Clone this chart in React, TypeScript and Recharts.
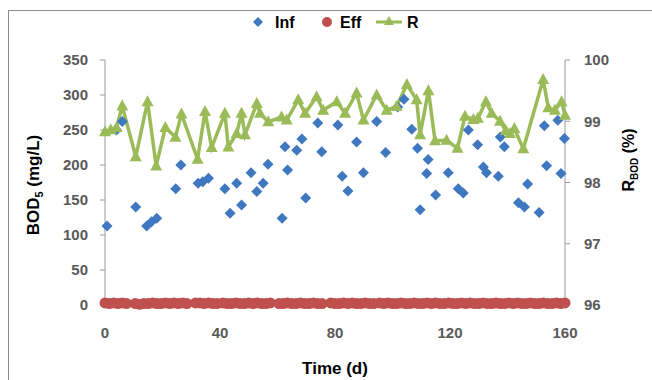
import React from 'react';
import { ComposedChart, Scatter, Line, XAxis, YAxis } from 'recharts';

// influent BOD5 (mg/L)
const infDays = [0.7, 4, 6, 10.7, 14.5, 16.2, 18, 24.6, 26.4, 32.4, 34, 36, 41.7, 43.5, 45.8, 47.5, 50.8, 52.8, 55, 56.7, 61.6, 62.6, 63.5, 66.7, 68.5, 69.8, 74, 75.4, 81, 82.5, 84.5, 87.5, 89.9, 94.5, 97.6, 101.8, 104, 106.7, 108.7, 109.6, 111.9, 112.4, 115, 119.4, 122.9, 124.6, 126.4, 129.6, 131.6, 132.7, 136.8, 137.5, 138.9, 143.8, 145.9, 147, 151, 152.8, 153.6, 157.5, 158.6, 159.8];
const infValues = [113, 250, 262, 140, 113, 119, 124, 166, 200, 174, 176, 181, 166, 131, 174, 143, 189, 162, 174, 201, 124, 226, 193, 221, 237, 153, 260, 219, 257, 184, 163, 233, 189, 262, 218, 283, 294, 251, 224, 136, 188, 208, 157, 189, 166, 160, 250, 229, 197, 189, 184, 240, 226, 146, 140, 173, 132, 256, 199, 264, 188, 238];
// effluent BOD5 (mg/L)
const effDays = [0, 1.5, 3, 4.5, 6, 7.5, 10.5, 12, 13.5, 15, 16.5, 18, 19.5, 21, 22.5, 24, 25.5, 27, 28.5, 31.5, 33, 34.5, 36, 37.5, 39, 41, 42.5, 44, 45.5, 47, 48.5, 50, 51.5, 53, 54.5, 56, 57.5, 60.5, 62, 63.5, 65, 66.5, 68, 69.5, 71, 72.5, 74, 75.5, 78.5, 80, 81.5, 83, 84.5, 86, 87.5, 89, 90.5, 92, 93.5, 95.5, 97, 98.5, 100, 101.5, 103, 104.5, 106, 107.5, 109, 110.5, 112, 113.5, 115, 116.5, 118, 119.5, 121, 122.5, 124, 125.5, 127, 128.5, 130, 131.5, 133, 134.5, 136, 137.5, 139, 140.5, 142, 143.5, 145, 146.5, 148, 149.5, 151, 152.5, 154, 155.5, 157, 158.5, 160];
const effValues = [3, 2, 3, 2, 3, 2, 2, 1, 2, 2, 3, 2, 2, 3, 2, 3, 2, 3, 2, 3, 3, 2, 3, 2, 2, 3, 2, 2, 3, 2, 2, 3, 2, 3, 2, 2, 3, 2, 2, 3, 2, 2, 3, 2, 2, 3, 2, 2, 3, 2, 2, 3, 2, 3, 2, 2, 3, 2, 2, 3, 2, 3, 2, 2, 3, 2, 2, 3, 2, 2, 3, 2, 3, 2, 2, 3, 2, 2, 3, 2, 3, 2, 2, 3, 2, 2, 3, 2, 2, 3, 2, 3, 2, 2, 3, 2, 2, 3, 2, 2, 3, 2, 3];
// removal efficiency R_BOD (%)
const rDays = [0, 2, 4, 6, 10.7, 14.8, 17.8, 21, 24.5, 26.6, 32.2, 34.8, 37.1, 41.7, 42.9, 45.8, 47.5, 48.7, 52.8, 53.9, 56.8, 61.4, 63.2, 67.2, 69.6, 73.6, 75.9, 80.6, 83.5, 87.5, 89.9, 94.5, 98, 101.4, 105, 108.4, 109.6, 112.5, 114.8, 118.8, 122.6, 125.2, 128.1, 129.7, 132.5, 134.5, 137.4, 139.4, 140.9, 142.4, 145.5, 152.4, 154.2, 156.5, 158.8, 160];
const rValues = [98.83, 98.86, 98.9, 99.25, 98.42, 99.32, 98.27, 98.9, 98.74, 99.12, 98.38, 99.16, 98.57, 99.13, 98.58, 98.8, 99.13, 98.78, 99.29, 99.13, 98.99, 99.07, 99.02, 99.35, 99.13, 99.4, 99.18, 99.32, 99.13, 99.46, 99.02, 99.43, 99.18, 99.24, 99.6, 99.35, 98.78, 99.5, 98.68, 98.69, 98.56, 99.08, 99.03, 99.05, 99.32, 99.13, 99.0, 98.85, 98.8, 98.88, 98.55, 99.68, 99.22, 99.18, 99.32, 99.1];

const xTicks = [0, 40, 80, 120, 160];
const leftTicks = [0, 50, 100, 150, 200, 250, 300, 350];
const rightTicks = [96, 97, 98, 99, 100];

const BLUE = '#3f78c1';
const RED = '#c0504d';
const GREEN = '#9bbb59';
const AXIS = '#9a9a9a';
const FONT = 'Arial, "Liberation Sans", sans-serif';

const infData = infDays.map((d, i) => ({ day: d, bod: infValues[i] }));
const effData = effDays.map((d, i) => ({ day: d, bod: effValues[i] }));
const rData = rDays.map((d, i) => ({ day: d, r: rValues[i] }));

const Diamond = (props: any) => {
  const { cx, cy } = props;
  const s = 5.5;
  return <polygon points={`${cx},${cy - s} ${cx + s},${cy} ${cx},${cy + s} ${cx - s},${cy}`} fill={BLUE} />;
};

const Dot = (props: any) => <circle cx={props.cx} cy={props.cy} r={5.5} fill={RED} />;

const Tri = (props: any) => {
  const { cx, cy, index } = props;
  return <polygon key={index} points={`${cx},${cy - 6.5} ${cx + 6},${cy + 4.5} ${cx - 6},${cy + 4.5}`} fill={GREEN} />;
};

const tickStyle = { fill: '#595959', fontSize: 15, fontWeight: 'bold', fontFamily: FONT };

export default function App() {
  return (
    <div style={{ position: 'relative', width: 652, height: 380, overflow: 'hidden', background: '#fff', fontFamily: FONT }}>
      <style>{'body{margin:0}'}</style>
      <div style={{ position: 'absolute', left: 8, top: 10, width: 680, height: 400, border: '1px solid #8c8c8c' }} />
      <svg style={{ position: 'absolute', left: 0, top: 0 }} width={652} height={40}>
        <polygon points="258,17 263,22 258,27 253,22" fill={BLUE} />
        <text x={275} y={28} fontSize={16} fontWeight="bold" fontFamily={FONT} fill="#000">Inf</text>
        <circle cx={327} cy={22} r={5} fill={RED} />
        <text x={340} y={28} fontSize={16} fontWeight="bold" fontFamily={FONT} fill="#000">Eff</text>
        <line x1={376} y1={22} x2={402} y2={22} stroke={GREEN} strokeWidth={3} />
        <polygon points="389,16 394,25 384,25" fill={GREEN} />
        <text x={407} y={28} fontSize={16} fontWeight="bold" fontFamily={FONT} fill="#000">R</text>
      </svg>
      <div style={{ position: 'absolute', left: 0, top: 0 }}>
        <ComposedChart width={652} height={380} margin={{ top: 60, right: 0, bottom: 0, left: 0 }}>
          <XAxis
            xAxisId="top"
            orientation="top"
            type="number"
            dataKey="day"
            domain={[0, 160]}
            height={0}
            tick={false}
            tickLine={false}
            axisLine={{ stroke: AXIS }}
          />
          <XAxis
            type="number"
            dataKey="day"
            domain={[0, 160]}
            ticks={xTicks}
            height={75}
            tickSize={5}
            tickMargin={17}
            tick={tickStyle}
            axisLine={{ stroke: AXIS }}
            tickLine={false}
            label={{
              content: () => (
                <text x={335} y={374} textAnchor="middle" fontSize={17} fontWeight="bold" fontFamily={FONT} fill="#000">Time (d)</text>
              ),
            }}
          />
          <YAxis
            yAxisId="left"
            type="number"
            domain={[0, 350]}
            ticks={leftTicks}
            width={105}
            tickSize={5}
            tickMargin={12}
            tick={tickStyle}
            axisLine={{ stroke: AXIS }}
            tickLine={{ stroke: AXIS }}
            label={{
              content: () => (
                <text transform="translate(39,185) rotate(-90)" textAnchor="middle" fontSize={17} fontWeight="bold" fontFamily={FONT} fill="#000">
                  BOD<tspan fontSize={11} dy={4}>5</tspan><tspan dy={-4}> (mg/L)</tspan>
                </text>
              ),
            }}
          />
          <YAxis
            yAxisId="right"
            orientation="right"
            type="number"
            domain={[96, 100]}
            ticks={rightTicks}
            width={87}
            tickSize={5}
            tickMargin={14}
            tick={tickStyle}
            axisLine={{ stroke: AXIS }}
            tickLine={{ stroke: AXIS }}
            label={{
              content: () => (
                <text transform="translate(634,160) rotate(-90)" textAnchor="middle" fontSize={16} fontWeight="bold" fontFamily={FONT} fill="#000">
                  R<tspan fontSize={10} dy={4}>BOD</tspan><tspan dy={-4}> (%)</tspan>
                </text>
              ),
            }}
          />
          <Scatter name="Eff" data={effData} dataKey="bod" yAxisId="left" shape={Dot} isAnimationActive={false} />
          <Scatter name="Inf" data={infData} dataKey="bod" yAxisId="left" shape={Diamond} isAnimationActive={false} />
          <Line
            name="R"
            data={rData}
            dataKey="r"
            yAxisId="right"
            type="linear"
            stroke={GREEN}
            strokeWidth={3.5}
            dot={Tri}
            activeDot={false}
            isAnimationActive={false}
          />
        </ComposedChart>
      </div>
    </div>
  );
}
